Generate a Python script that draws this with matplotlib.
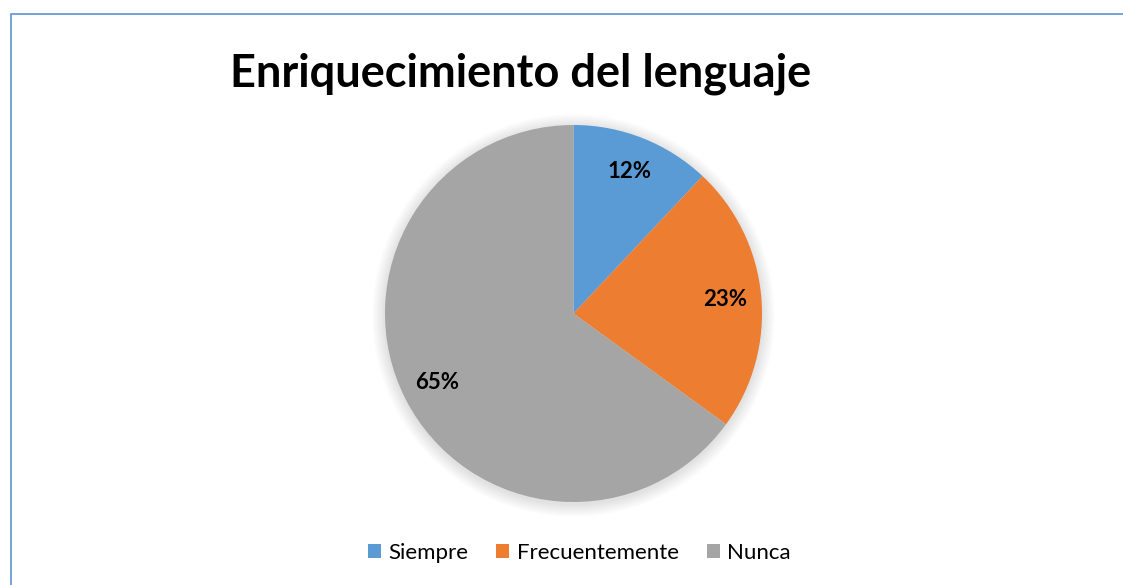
import matplotlib
matplotlib.use('Agg')
import matplotlib.pyplot as plt
from matplotlib.patches import Rectangle, Circle

categorias = ['Siempre', 'Frecuentemente', 'Nunca']
porcentajes = [12, 23, 65]
colores = ['#5B9BD5', '#ED7D31', '#A5A5A5']

plt.rcParams['font.family'] = ['Lato', 'DejaVu Sans']

W, H = 1123, 585
fig = plt.figure(figsize=(W / 100, H / 100), dpi=100)

# marco del grafico (borde azul claro arriba y a la izquierda)
fig.patches.append(Rectangle((10.5 / W, -0.1), 1.2, (H - 13.5) / H + 0.1,
                             transform=fig.transFigure, fill=False,
                             edgecolor='#6A9BD8', linewidth=1.3))

ax = fig.add_axes([0, 0, 1, 1])
ax.set_xlim(0, W)
ax.set_ylim(0, H)
ax.set_aspect('equal')
ax.axis('off')

cx, cy, r = 573.5, H - 313.5, 188.5

# sombra suave alrededor del pastel
for i in range(10):
    ax.add_patch(Circle((cx, cy - 2), r + 1 + i * 1.3, color='#000000',
                        alpha=0.012, linewidth=0, zorder=0))

wedges, textos, autotextos = ax.pie(porcentajes, colors=colores, startangle=90,
                                    counterclock=False, center=(cx, cy), radius=r,
                                    autopct='%d%%', pctdistance=0.81,
                                    wedgeprops=dict(linewidth=0),
                                    textprops=dict(fontsize=16, fontweight='bold',
                                                   color='black'))
ax.set_xlim(0, W)
ax.set_ylim(0, H)

fig.text(521 / W, 1 - 74 / H, 'Enriquecimiento del lenguaje', ha='center',
         va='center', fontsize=32.5, fontweight='bold')

fig.legend(wedges, categorias, loc='center', bbox_to_anchor=(0.516, 1 - 553 / H),
           ncol=3, frameon=False, fontsize=16, handlelength=0.58,
           handleheight=0.58, handletextpad=0.35, columnspacing=1.25)

fig.savefig('out.png', dpi=100)
